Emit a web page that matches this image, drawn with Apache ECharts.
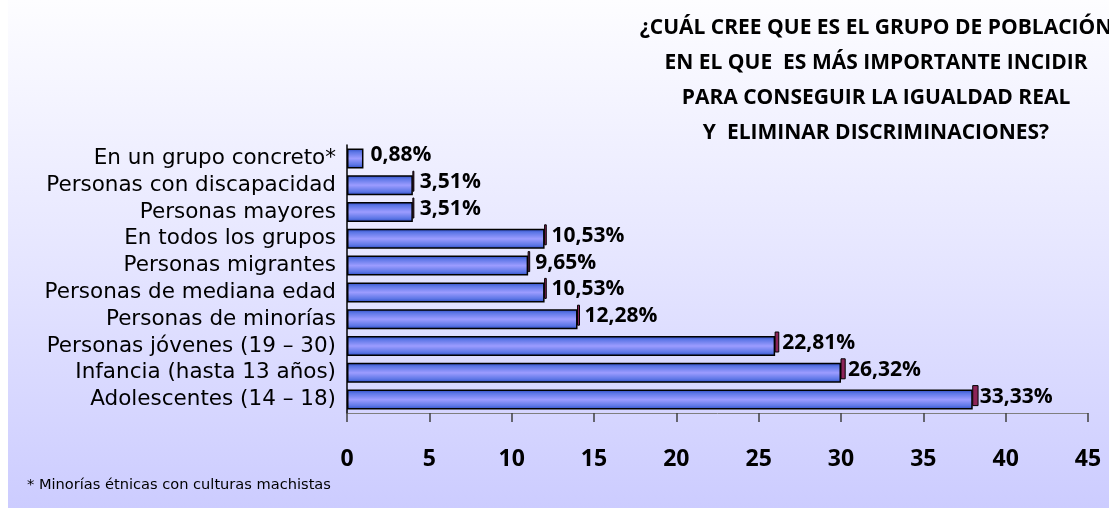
<!DOCTYPE html>
<html>
<head>
  <meta charset="utf-8">
  <title>Grupo de población</title>
  <script src="https://cdn.jsdelivr.net/npm/echarts@6/dist/echarts.min.js"></script>
  <style>
    html, body { margin: 0; padding: 0; background: #fff; }
    #main {
      position: absolute; left: 8px; top: 0;
      width: 1101px; height: 508px;
      background: linear-gradient(to bottom, #fdfdff 0%, #e6e6ff 50%, #ccccff 100%);
    }
  </style>
</head>
<body>
<div id="main"></div>
<script type="text/javascript">
  // categorias de arriba a abajo
  var categories = ['En un grupo concreto*', 'Personas con discapacidad', 'Personas mayores',
    'En todos los grupos', 'Personas migrantes', 'Personas de mediana edad',
    'Personas de minorías', 'Personas jóvenes (19 – 30)', 'Infancia (hasta 13 años)',
    'Adolescentes (14 – 18)'];
  // número de respuestas (longitud de la barra)
  var counts = [1, 4, 4, 12, 11, 12, 14, 26, 30, 38];
  // etiqueta porcentual de cada barra
  var percents = ['0,88%', '3,51%', '3,51%', '10,53%', '9,65%', '10,53%', '12,28%', '22,81%', '26,32%', '33,33%'];
  var xTicks = [0, 5, 10, 15, 20, 25, 30, 35, 40, 45];

  var titleText = '¿CUÁL CREE QUE ES EL GRUPO DE POBLACIÓN\nEN EL QUE  ES MÁS IMPORTANTE INCIDIR\nPARA CONSEGUIR LA IGUALDAD REAL\nY  ELIMINAR DISCRIMINACIONES?';
  var footText = '* Minorías étnicas con culturas machistas';

  var font = '"Open Sans", "Noto Sans", sans-serif';
  var wideFont = '"DejaVu Sans", sans-serif';

  var myChart = echarts.init(document.getElementById('main'));

  var barGradient = new echarts.graphic.LinearGradient(0, 0, 0, 1, [
    {offset: 0, color: '#2a48bf'},
    {offset: 0.18, color: '#5c76e6'},
    {offset: 0.5, color: '#9c9cff'},
    {offset: 0.82, color: '#5c76e6'},
    {offset: 1, color: '#2a48bf'}
  ]);

  var option = {
    animation: false,
    backgroundColor: 'transparent',
    grid: {left: 339, right: 21, top: 145, bottom: 95},
    graphic: [
      {
        type: 'text', x: 868, y: 11,
        style: {
          text: titleText, textAlign: 'center', fill: '#000',
          font: 'bold 21px ' + font, lineHeight: 35
        }
      },
      {
        type: 'text', x: 19, y: 478,
        style: {text: footText, fill: '#000', font: '14.6px ' + wideFont}
      }
    ],
    xAxis: {
      type: 'value',
      min: xTicks[0], max: xTicks[xTicks.length - 1], interval: 5,
      splitLine: {show: false},
      axisLine: {show: true, lineStyle: {color: '#7f7f7f', width: 1}},
      axisTick: {show: true, length: 9, lineStyle: {color: '#404040', width: 1.5}},
      axisLabel: {margin: 35, color: '#000', fontSize: 23, fontWeight: 'bold', fontFamily: font}
    },
    yAxis: {
      type: 'category',
      inverse: true,
      data: categories,
      axisLine: {show: true, onZero: false, lineStyle: {color: '#000', width: 1.5}},
      axisTick: {show: false},
      axisLabel: {interval: 0, margin: 11, color: '#000', fontSize: 21.5, fontFamily: wideFont}
    },
    series: [
      {
        type: 'bar',
        data: counts,
        barWidth: 20,
        itemStyle: {color: barGradient, borderColor: '#000', borderWidth: 1.5},
        label: {
          show: true, position: 'right', distance: 7, offset: [0, -3],
          color: '#000', fontSize: 21, fontWeight: 'bold', fontFamily: font,
          formatter: function (p) { return percents[p.dataIndex]; }
        }
      },
      {
        // cara lateral de la barra (efecto 3D)
        type: 'custom',
        data: counts.map(function (v, i) { return [v, i]; }),
        encode: {x: 0, y: 1},
        renderItem: function (params, api) {
          var v = api.value(0);
          if (v < 2) return null;
          var p = api.coord([v, api.value(1)]);
          var w = Math.max(1, v * 0.14);
          return {
            type: 'rect',
            shape: {x: p[0], y: p[1] - 14, width: w, height: 20},
            style: {fill: '#8c2458', stroke: '#000', lineWidth: 1}
          };
        },
        z: 3
      }
    ]
  };
  myChart.setOption(option);
</script>
</body>
</html>
